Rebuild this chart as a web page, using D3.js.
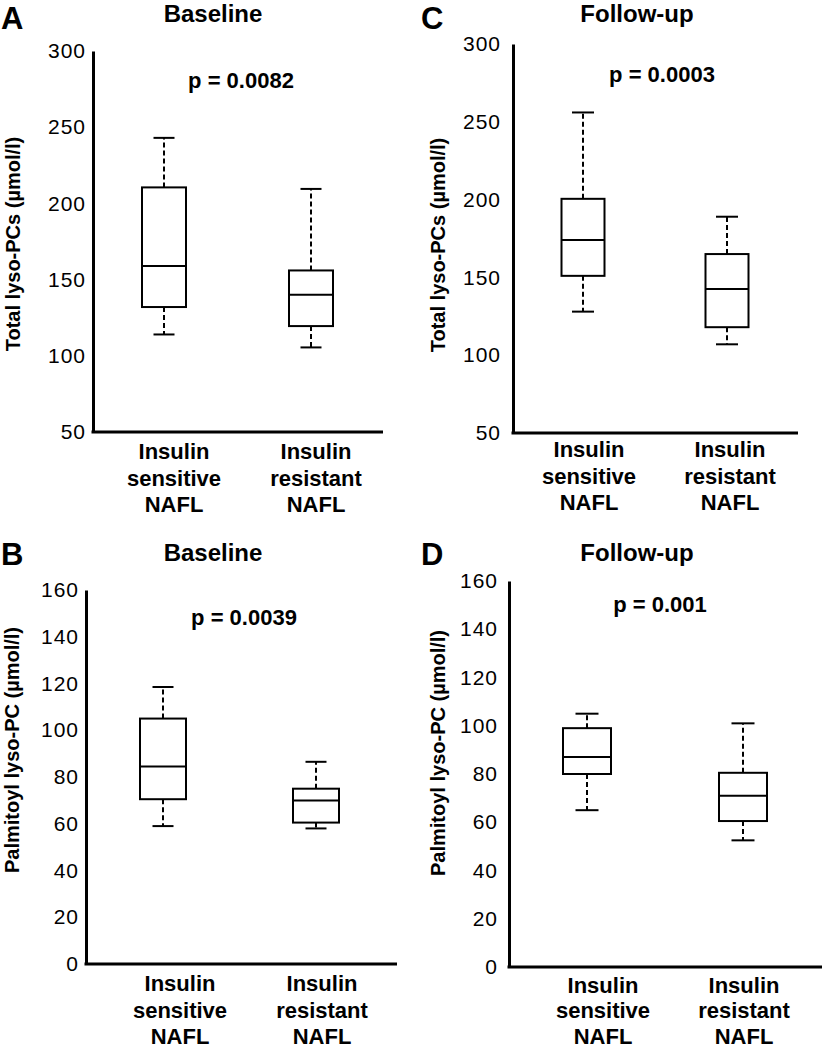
<!DOCTYPE html>
<html>
<head>
<meta charset="utf-8">
<script src="https://cdn.jsdelivr.net/npm/d3@7"></script>
<style>
  html, body { margin: 0; padding: 0; background: #fff; }
  svg { display: block; font-family: "Liberation Sans", Arial, sans-serif; }
</style>
</head>
<body>
<svg id="chart" width="822" height="1049"></svg>
<script>
// ---------- data ----------
const categories = ["Insulin sensitive NAFL", "Insulin resistant NAFL"];
const categoryLines = [["Insulin", "sensitive", "NAFL"], ["Insulin", "resistant", "NAFL"]];
// [lower whisker, Q1, median, Q3, upper whisker]
const totalBaseline = [[114, 132, 159, 210.5, 243], [105.5, 119.5, 140, 156, 209.5]];
const totalFollowUp = [[128, 151, 174, 200.5, 256], [107, 118, 142.5, 165, 189]];
const palmitoylBaseline = [[59, 70.5, 84.5, 105, 118.5], [58, 60.5, 70, 75, 86.5]];
const palmitoylFollowUp = [[65, 80, 87, 99, 105], [52.5, 60.5, 71, 80.5, 101]];
const totalTicks = [50, 100, 150, 200, 250, 300];
const palmitoylTicks = [0, 20, 40, 60, 80, 100, 120, 140, 160];
const panelLetters = ["A", "B", "C", "D"];
const panelTitles = ["Baseline", "Baseline", "Follow-up", "Follow-up"];
const pValues = ["p = 0.0082", "p = 0.0039", "p = 0.0003", "p = 0.001"];
const yTitles = ["Total lyso-PCs (µmol/l)", "Palmitoyl lyso-PC (µmol/l)", "Total lyso-PCs (µmol/l)", "Palmitoyl lyso-PC (µmol/l)"];

// ---------- layout ----------
const panels = [
  { letter: panelLetters[0], title: panelTitles[0], p: pValues[0], ytitle: yTitles[0], data: totalBaseline, ticks: totalTicks,
    domain: [50, 300], yr: [432, 51], ax: 93, xEnd: 383, box: [164, 311], lab: [174, 316], bw: 44, cap: 21,
    letterPos: [1, 28.5], titlePos: [213, 22], pPos: [241, 88], ytPos: [20, 244], labY: 459, lineGap: 26.5, tickGap: 7 },
  { letter: panelLetters[1], title: panelTitles[1], p: pValues[1], ytitle: yTitles[1], data: palmitoylBaseline, ticks: palmitoylTicks,
    domain: [0, 160], yr: [964, 590], ax: 86, xEnd: 397, box: [163, 316], lab: [180, 322], bw: 46, cap: 21,
    letterPos: [1, 565], titlePos: [213, 561], pPos: [244, 625], ytPos: [19, 750], labY: 991, lineGap: 26.5, tickGap: 7 },
  { letter: panelLetters[2], title: panelTitles[2], p: pValues[2], ytitle: yTitles[2], data: totalFollowUp, ticks: totalTicks,
    domain: [50, 300], yr: [433, 44], ax: 513, xEnd: 798, box: [583, 727], lab: [589, 730], bw: 43, cap: 22,
    letterPos: [421, 28.5], titlePos: [637, 22], pPos: [662, 82], ytPos: [445, 245], labY: 457, lineGap: 26.5, tickGap: 12 },
  { letter: panelLetters[3], title: panelTitles[3], p: pValues[3], ytitle: yTitles[3], data: palmitoylFollowUp, ticks: palmitoylTicks,
    domain: [0, 160], yr: [967, 581], ax: 509, xEnd: 822, box: [587, 743], lab: [603, 744], bw: 48, cap: 23,
    letterPos: [421, 565], titlePos: [637, 561], pPos: [660, 612], ytPos: [445, 753], labY: 992.5, lineGap: 25.8, tickGap: 11 }
];

const svg = d3.select("#chart");

panels.forEach(P => {
  const g = svg.append("g");
  const y = d3.scaleLinear().domain(P.domain).range(P.yr);
  const x = d3.scalePoint().domain(categories).range(P.box);
  const xl = d3.scalePoint().domain(categories).range(P.lab);

  // y axis
  const yAxis = d3.axisLeft(y).tickValues(P.ticks).tickSize(0).tickPadding(P.tickGap).tickSizeOuter(0);
  const ga = g.append("g").attr("transform", `translate(${P.ax},0)`).call(yAxis);
  ga.select(".domain").attr("stroke", "#000").attr("stroke-width", 3);
  ga.selectAll("text").attr("font-size", 21).attr("letter-spacing", 1).attr("fill", "#000")
    .attr("font-family", "'Liberation Sans', Arial, sans-serif");

  // x axis baseline
  g.append("line").attr("x1", P.ax - 1.5).attr("x2", P.xEnd)
    .attr("y1", y(P.domain[0])).attr("y2", y(P.domain[0]))
    .attr("stroke", "#000").attr("stroke-width", 3);

  // boxes
  P.data.forEach((d, i) => {
    const cx = x(categories[i]);
    const [lo, q1, med, q3, hi] = d;
    const bg = g.append("g");
    bg.append("line").attr("x1", cx).attr("x2", cx).attr("y1", y(q3)).attr("y2", y(hi))
      .attr("stroke", "#000").attr("stroke-width", 2).attr("stroke-dasharray", "5,3");
    bg.append("line").attr("x1", cx).attr("x2", cx).attr("y1", y(q1)).attr("y2", y(lo))
      .attr("stroke", "#000").attr("stroke-width", 2).attr("stroke-dasharray", "5,3");
    [lo, hi].forEach(v => {
      bg.append("line").attr("x1", cx - P.cap / 2).attr("x2", cx + P.cap / 2)
        .attr("y1", y(v)).attr("y2", y(v)).attr("stroke", "#000").attr("stroke-width", 2);
    });
    bg.append("rect").attr("x", cx - P.bw / 2).attr("width", P.bw)
      .attr("y", y(q3)).attr("height", y(q1) - y(q3))
      .attr("fill", "#fff").attr("stroke", "#000").attr("stroke-width", 2);
    bg.append("line").attr("x1", cx - P.bw / 2).attr("x2", cx + P.bw / 2)
      .attr("y1", y(med)).attr("y2", y(med)).attr("stroke", "#000").attr("stroke-width", 2);
  });

  // category labels
  categoryLines.forEach((lines, i) => {
    const t = g.append("text").attr("text-anchor", "middle").attr("font-weight", "bold")
      .attr("font-size", 22).attr("x", xl(categories[i])).attr("y", P.labY);
    lines.forEach((ln, j) => {
      t.append("tspan").attr("x", xl(categories[i])).attr("dy", j === 0 ? 0 : P.lineGap).text(ln);
    });
  });

  g.append("text").attr("x", P.letterPos[0]).attr("y", P.letterPos[1])
    .attr("font-size", 31).attr("font-weight", "bold").text(P.letter);
  g.append("text").attr("x", P.titlePos[0]).attr("y", P.titlePos[1]).attr("text-anchor", "middle")
    .attr("font-size", 24).attr("font-weight", "bold").text(P.title);
  g.append("text").attr("x", P.pPos[0]).attr("y", P.pPos[1]).attr("text-anchor", "middle")
    .attr("font-size", 22).attr("font-weight", "bold").text(P.p);
  g.append("text").attr("transform", `translate(${P.ytPos[0]},${P.ytPos[1]}) rotate(-90)`)
    .attr("text-anchor", "middle").attr("font-size", 20).attr("font-weight", "bold").text(P.ytitle);
});
</script>
</body>
</html>
